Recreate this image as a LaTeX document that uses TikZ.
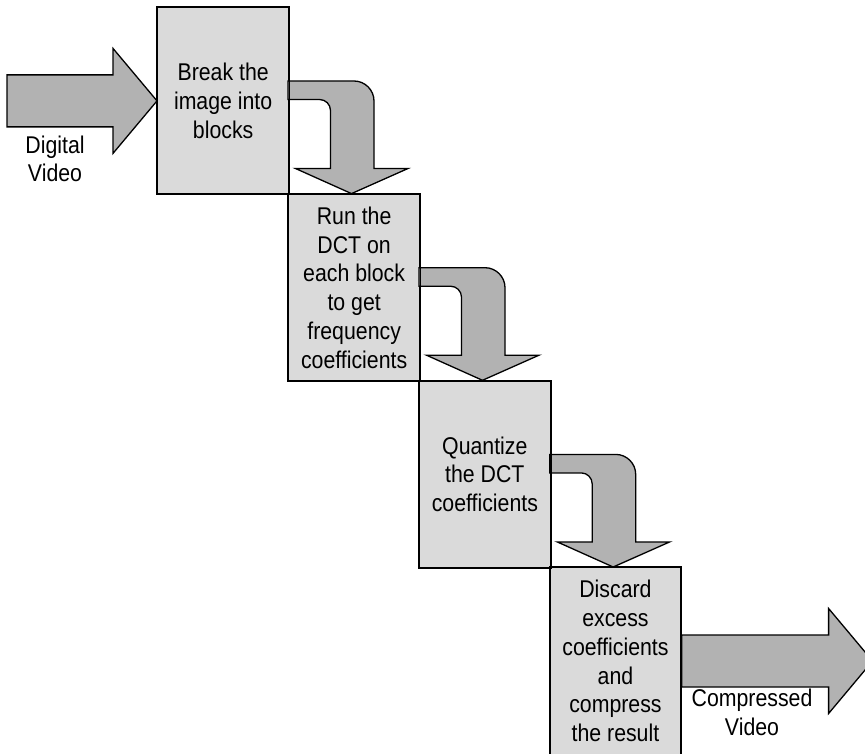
\documentclass[tikz,border=0pt]{standalone}
\usepackage{fontspec}
\newfontfamily\condfont{Liberation Sans}[FakeStretch=0.88]
\begin{document}
\begin{tikzpicture}[x=1pt,y=-1pt,
  stagebox/.style={draw=black, fill=boxgray, line width=1.3pt,
    minimum width=131pt, minimum height=186.5pt, inner sep=0pt,
    align=center, font=\condfont\fontsize{24.2}{28.7}\selectfont},
  flowarrow/.style={draw=black, fill=arrowgray, line width=1.3pt, line join=miter},
  caption/.style={align=center, inner sep=0pt,
    font=\condfont\fontsize{24.2}{28.7}\selectfont}]
\definecolor{boxgray}{RGB}{218,218,218}
\definecolor{arrowgray}{RGB}{178,178,178}
\useasboundingbox (0,0) rectangle (865,754);
\clip (0,0) rectangle (865,754);

% processing stages, stepping down to the right
\node[stagebox, anchor=north west] (b1) at (157,7)     {Break the\\image into\\blocks};
\node[stagebox, anchor=north west] (b2) at (288,193.7) {Run the\\DCT on\\each block\\to get\\frequency\\coefficients};
\node[stagebox, anchor=north west] (b3) at (418.7,380.4) {Quantize\\the DCT\\coefficients};
\node[stagebox, anchor=north west] (b4) at (549.3,567.1) {Discard\\excess\\coefficients\\and\\compress\\the result};

% bent arrow from the right side of one stage down onto the next one
\newcommand{\bentarrow}[1]{%
  \begin{scope}[shift={(#1.north west)}]
    \draw[flowarrow]
      (131,74) -- (197,74)
      .. controls (208,74) and (217,83) .. (217,94)
      -- (217,161.5) -- (251,161.5) -- (194.5,186.6) -- (138.5,161.5)
      -- (173.5,161.5) -- (173.5,103.5)
      .. controls (173.5,97.4) and (168.6,92.5) .. (162.5,92.5)
      -- (131,92.5) -- cycle;
  \end{scope}}

% input arrow
\begin{scope}[shift={(b1.west)}]
  \draw[flowarrow] (-150,-26) -- (-44,-26) -- (-44,-52.5) -- (0,0)
    -- (-44,52.5) -- (-44,26) -- (-150,26) -- cycle;
\end{scope}
% output arrow
\begin{scope}[shift={(b4.east)}]
  \draw[flowarrow] (0,-26) -- (147,-26) -- (147,-52.5) -- (191,0)
    -- (147,52.5) -- (147,26) -- (0,26) -- cycle;
\end{scope}

\bentarrow{b1}
\bentarrow{b2}
\bentarrow{b3}

% redraw the stage outlines over the arrow ends
\foreach \b in {b1,b2,b3,b4}
  \draw[line width=1.3pt] (\b.north west) rectangle (\b.south east);

\node[caption] (din)  at (55,159)  {Digital\\Video};
\node[caption] (dout) at (752,712) {Compressed\\Video};
\end{tikzpicture}
\end{document}
